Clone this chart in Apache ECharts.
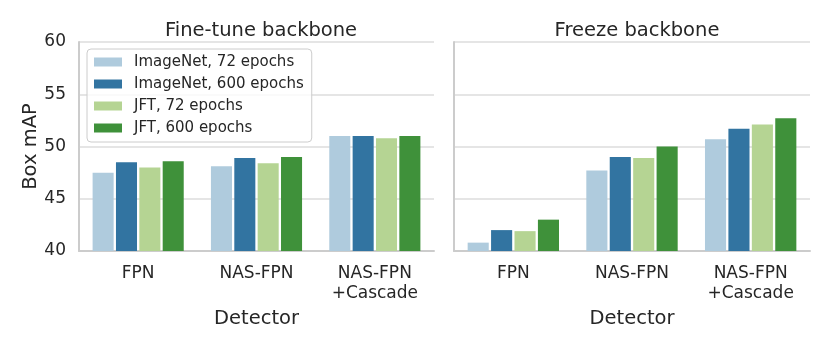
<!DOCTYPE html>
<html>
<head>
<meta charset="utf-8">
<script src="https://cdn.jsdelivr.net/npm/echarts@6/dist/echarts.min.js"></script>
<style>
  html,body{margin:0;padding:0;background:#fff;}
  #chart1{width:830px;height:346px;}
</style>
</head>
<body>
<div id="chart1"></div>
<script>
// 数据
var detectors = ['FPN', 'NAS-FPN', 'NAS-FPN\n+Cascade'];
var seriesNames = ['ImageNet, 72 epochs', 'ImageNet, 600 epochs', 'JFT, 72 epochs', 'JFT, 600 epochs'];
var colors = ['#afcbdd', '#3274a1', '#b5d493', '#3f913a'];
var yTicks = [40, 45, 50, 55, 60];
// Fine-tune backbone
var fineImageNet72 = [47.5, 48.1, 51.0];
var fineImageNet600 = [48.5, 48.9, 51.0];
var fineJft72 = [48.0, 48.4, 50.8];
var fineJft600 = [48.6, 49.0, 51.0];
// Freeze backbone
var freezeImageNet72 = [40.8, 47.7, 50.7];
var freezeImageNet600 = [42.0, 49.0, 51.7];
var freezeJft72 = [41.9, 48.9, 52.1];
var freezeJft600 = [43.0, 50.0, 52.7];

var fineData = [fineImageNet72, fineImageNet600, fineJft72, fineJft600];
var freezeData = [freezeImageNet72, freezeImageNet600, freezeJft72, freezeJft600];

var textColor = '#262626';
var font = 'DejaVu Sans';

function makeX(idx) {
  return {
    type: 'category',
    gridIndex: idx,
    data: detectors,
    name: 'Detector',
    nameLocation: 'middle',
    nameGap: 48,
    nameTextStyle: {color: textColor, fontSize: 19.5, fontFamily: font},
    axisLine: {lineStyle: {color: '#cccccc', width: 2}},
    axisTick: {show: false},
    axisLabel: {color: textColor, fontSize: 17, fontFamily: font, margin: 13, lineHeight: 20}
  };
}

function makeY(idx) {
  return {
    type: 'value',
    gridIndex: idx,
    min: yTicks[0],
    max: yTicks[yTicks.length - 1],
    interval: 5,
    name: idx == 0 ? 'Box mAP' : '',
    nameLocation: 'middle',
    nameGap: 37,
    nameTextStyle: {color: textColor, fontSize: 19.5, fontFamily: font},
    axisLine: {show: true, lineStyle: {color: '#cccccc', width: 2}},
    axisTick: {show: false},
    axisLabel: {show: idx == 0, color: textColor, fontSize: 17, fontFamily: font, margin: 13},
    splitLine: {lineStyle: {color: '#dddddd', width: 1.5}}
  };
}

var series = [];
[fineData, freezeData].forEach(function (group, g) {
  group.forEach(function (vals, i) {
    series.push({
      name: seriesNames[i],
      type: 'bar',
      xAxisIndex: g,
      yAxisIndex: g,
      data: vals,
      barGap: '11%',
      barCategoryGap: '23%',
      itemStyle: {color: colors[i]},
      emphasis: {disabled: true}
    });
  });
});

var chart1 = echarts.init(document.getElementById('chart1'));
var option1 = {
  animation: false,
  color: colors,
  textStyle: {fontFamily: font},
  title: [
    {text: 'Fine-tune backbone', left: 256, top: 16, textAlign: 'center',
      textStyle: {color: textColor, fontSize: 19.5, fontWeight: 'normal', fontFamily: font}},
    {text: 'Freeze backbone', left: 632, top: 16, textAlign: 'center',
      textStyle: {color: textColor, fontSize: 19.5, fontWeight: 'normal', fontFamily: font}}
  ],
  legend: {
    data: seriesNames,
    orient: 'vertical',
    left: 87,
    top: 49,
    padding: [5, 8, 6, 7],
    itemWidth: 28,
    itemHeight: 9,
    itemGap: 6,
    borderColor: '#cccccc',
    borderWidth: 1,
    borderRadius: 4,
    backgroundColor: 'rgba(255,255,255,0.8)',
    icon: 'rect',
    textStyle: {color: textColor, fontSize: 15, fontFamily: font, lineHeight: 16, padding: [0, 0, 0, 7]}
  },
  grid: [
    {left: 79, right: 396, top: 42, bottom: 95},
    {left: 454, right: 20, top: 42, bottom: 95}
  ],
  xAxis: [makeX(0), makeX(1)],
  yAxis: [makeY(0), makeY(1)],
  series: series
};
chart1.setOption(option1);
</script>
</body>
</html>
